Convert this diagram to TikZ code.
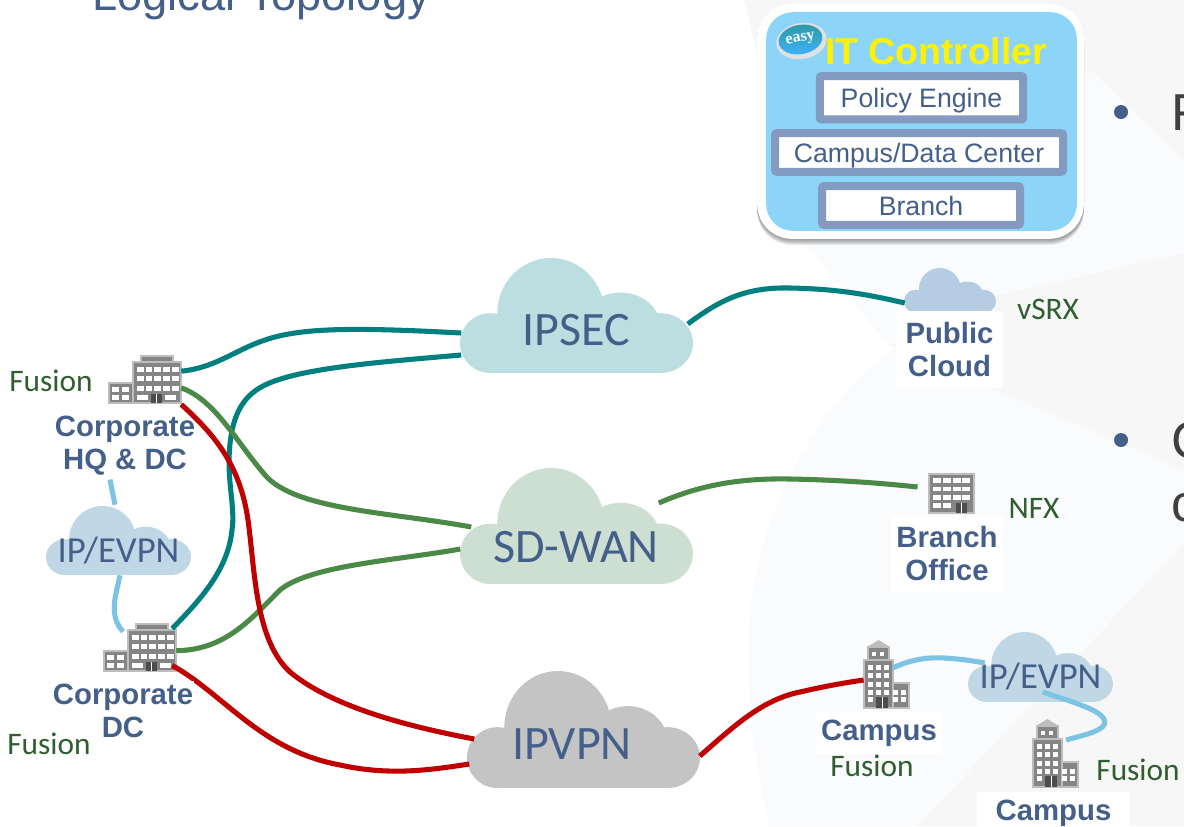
\documentclass[tikz,border=0pt]{standalone}
\usepackage{fontspec}
\setmainfont{Liberation Sans}
\newfontfamily\calfont{Carlito}
\newfontfamily\badgefont{Liberation Serif}
\usepackage{xcolor}
\usetikzlibrary{shapes.geometric}
\definecolor{site}{HTML}{44608A}
\definecolor{fusiontext}{HTML}{2F5F2F}
\definecolor{palebg}{HTML}{F9FBFD}
\definecolor{greybg}{HTML}{F7F7F8}
\definecolor{ctrlblue}{HTML}{8DD5F8}
\definecolor{boxrim}{HTML}{849BC1}
\definecolor{ipseccol}{HTML}{BBDEE0}
\definecolor{sdwancol}{HTML}{CCDFD0}
\definecolor{ipvpncol}{HTML}{C4C4C4}
\definecolor{evpncol}{HTML}{C0D8E6}
\definecolor{pubcol}{HTML}{B5CCE2}
\definecolor{teal}{HTML}{007F7F}
\definecolor{leaf}{HTML}{4A8A46}
\definecolor{crimson}{HTML}{C00000}
\definecolor{sky}{HTML}{7DC3E3}
\definecolor{bldgbody}{HTML}{858585}
\definecolor{bldgrim}{HTML}{BDBDBD}
\definecolor{bldgdoor}{HTML}{4D4D4D}
\tikzset{
  link/.style={line width=3.8pt},
  tealink/.style={link, draw=teal},
  greenlink/.style={link, draw=leaf},
  redlink/.style={link, draw=crimson},
  evpnlink/.style={link, draw=sky},
  sitelabel/.style={
    font=\bfseries\fontsize{22}{24.75}\selectfont,
    text=site,
    fill=white,
    align=center,
    inner xsep=1pt,
    inner ysep=2pt
  },
  fusion/.style={font=\calfont\fontsize{23.5}{25}\selectfont, text=fusiontext, inner sep=0pt},
  wanname/.style={
    font=\calfont\fontsize{36}{38}\selectfont,
    text=site,
    minimum width=174.75pt,
    minimum height=64.5pt,
    inner sep=0pt
  },
  lanname/.style={
    font=\calfont\fontsize{27.5}{29}\selectfont,
    text=site,
    minimum width=108.75pt,
    minimum height=37.5pt,
    inner sep=0pt
  },
  ctrlbox/.style={
    font=\fontsize{20}{22}\selectfont,
    text=site,
    fill=white,
    draw=boxrim,
    line width=6pt,
    rounded corners=1.5pt,
    inner sep=0pt,
    text height=18pt,
    text depth=3.6pt
  },
  corpbox/.style={minimum width=54pt, minimum height=37pt, inner sep=0pt},
  towerbox/.style={minimum width=34pt, minimum height=51pt, inner sep=0pt},
  branchbox/.style={minimum width=34pt, minimum height=29pt, inner sep=0pt},
  bldg/.style={fill=bldgbody, draw=bldgrim, line width=0.8pt},
  pane/.style={fill=white},
  pics/netcloud/.style={code={
    \path[pic actions] (0.13,0.74) ellipse[x radius=0.13, y radius=0.26];
    \path[pic actions] (0.39,0.48) ellipse[x radius=0.23, y radius=0.48];
    \path[pic actions] (0.69,0.60) ellipse[x radius=0.17, y radius=0.30];
    \path[pic actions] (0.86,0.74) ellipse[x radius=0.14, y radius=0.26];
    \path[pic actions] (0.13,0.6) rectangle (0.86,1);
  }},
  pics/corpbldg/.style={code={
    \filldraw[bldg] (0,28) rectangle (24,48);
    \filldraw[bldg] (32,1) rectangle (64,7);
    \filldraw[bldg] (24,7) rectangle (72,48);
    \foreach \wx in {28,36.7,45.4,54,63}
      \foreach \wy in {12,21,31}
        \fill[pane] (\wx,\wy) rectangle +(6.5,5);
    \foreach \wx in {3,12.5}
      \foreach \wy in {32,40}
        \fill[pane] (\wx,\wy) rectangle +(7,5);
    \fill[pane] (28,40) rectangle +(11,5);
    \fill[pane] (56,40) rectangle +(11,5);
    \fill[bldgdoor] (42,39) rectangle (53,48);
    \draw[white, line width=0.5pt] (47.5,39) -- (47.5,48);
  }},
  pics/towerbldg/.style={code={
    \fill[bldgrim] (3,7) -- (14.5,0) -- (26,7) -- cycle;
    \filldraw[bldg] (4,7) rectangle (25,20);
    \filldraw[bldg] (29,43) rectangle (45,68);
    \filldraw[bldg] (0,20) rectangle (29,68);
    \foreach \wx in {8,16}
      \fill[pane] (\wx,12) rectangle +(4,4);
    \foreach \wx in {4,12,20}
      \foreach \wy in {25,33,42,50}
        \fill[pane] (\wx,\wy) rectangle +(5,5);
    \fill[pane] (4,57) rectangle +(5,5);
    \foreach \wx in {28.5,36.5}
      \foreach \wy in {50,57}
        \fill[pane] (\wx,\wy) rectangle +(5,5);
    \fill[bldgdoor] (12,57) rectangle (24,68);
    \draw[white, line width=0.5pt] (18,57) -- (18,68);
  }},
  pics/branchbldg/.style={code={
    \filldraw[bldg] (0,0) rectangle (45,39);
    \foreach \wx in {3.5,13.5,23.5,33}
      \foreach \wy in {4,12.7,21}
        \fill[pane] (\wx,\wy) rectangle +(8,4.5);
    \foreach \wx in {3.5,13.5}
      \fill[pane] (\wx,29) rectangle +(8,4.5);
    \fill[bldgdoor] (27,29) rectangle (38,39);
    \draw[white, line width=0.5pt] (32.5,29) -- (32.5,39);
  }}
}
\begin{document}
\begin{tikzpicture}[x=0.75pt, y=-0.75pt]
  \useasboundingbox (0,0) rectangle (1184,826);
  \clip (0,0) rectangle (1184,826);

  \fill[white] (0,0) rectangle (1184,826);
  \fill[greybg] (744,0) -- (1184,0) -- (1184,160) -- (1090,70) -- (803,241) -- cycle;
  \fill[palebg] (803,241) -- (893,350) .. controls (820,400) and (748,520) .. (748,650) .. controls (748,710) and (755,770) .. (770,826) -- (1184,826) -- (1184,160) -- (1090,70) -- cycle;
  \fill[greybg] (890,345) -- (1000,295) -- (1184,253) -- (1184,470) -- cycle;
  \fill[greybg] (917,826) -- (1184,544) -- (1184,826) -- cycle;

  \node[anchor=base west, inner sep=0pt, font=\fontsize{34}{36}\selectfont, text=site] (title) at (92,10) {Logical Topology};
  \node[circle, fill=site, minimum size=10.5pt, inner sep=0pt] (dota) at (1121,112) {};
  \node[circle, fill=site, minimum size=10.5pt, inner sep=0pt] (dotb) at (1121,440) {};
  \node[anchor=base west, inner sep=0pt, font=\fontsize{39}{42}\selectfont, text=black!75] (linea) at (1171,130) {F};
  \node[anchor=base west, inner sep=0pt, font=\fontsize{39}{42}\selectfont, text=black!75] (lineb) at (1171,458) {C};
  \node[anchor=base west, inner sep=0pt, font=\fontsize{39}{42}\selectfont, text=black!75] (linec) at (1171,521) {c};

  \foreach \sh in {1,...,6}
    \fill[black, opacity=0.07, rounded corners=26pt] (757,{4+\sh}) rectangle (1084,{239+\sh});
  \node[fill=white, minimum width=245pt, minimum height=176pt, rounded corners=26pt] (ctrlout) at (920.5,121.5) {};
  \node[fill=ctrlblue, minimum width=233pt, minimum height=164pt, rounded corners=20pt] (ctrlin) at (921.5,121.5) {};
  \node[font=\bfseries\fontsize{28}{30}\selectfont, text=yellow, inner sep=0pt] (ctrlname) at (936,51) {IT Controller};
  \node[ellipse, rotate=10, fill=black!12, minimum width=38pt, minimum height=27pt, inner sep=0pt] (easyrim) at (801.5,41) {};
  \node[ellipse, rotate=10, top color=teal!70!ctrlblue, bottom color=cyan!60!blue!75, minimum width=33pt, minimum height=22pt, inner sep=0pt,
    font=\badgefont\bfseries\fontsize{12}{13}\selectfont, text=white] (easy) at (800.5,39.5) {easy};
  \node[ctrlbox, minimum width=152.6pt, minimum height=32.6pt] (policy) at (921.5,97.75) {Policy Engine};
  \node[ctrlbox, minimum width=216pt, minimum height=29pt] (campdc) at (919,152.5) {Campus/Data Center};
  \node[ctrlbox, minimum width=148.5pt, minimum height=29pt] (branchbox) at (921,205.5) {Branch};

  \pic[fill=ipseccol, xscale=233, yscale=115] at (460,258) {netcloud};
  \pic[fill=sdwancol, xscale=233, yscale=116] at (460,468) {netcloud};
  \pic[fill=ipvpncol, xscale=233, yscale=117] at (467,671) {netcloud};
  \pic[fill=evpncol, xscale=145, yscale=69] at (46,506) {netcloud};
  \pic[fill=evpncol, xscale=145, yscale=70] at (968,632) {netcloud};
  \pic[fill=pubcol, xscale=92, yscale=45] at (904,268) {netcloud};

  \node[wanname] (ipsec) at (576,330) {IPSEC};
  \node[wanname] (sdwan) at (576,547) {SD-WAN};
  \node[wanname] (ipvpn) at (572,744) {IPVPN};
  \node[minimum width=69pt, minimum height=34pt, inner sep=0pt] (pubcloud) at (950,290) {};

  \pic at (109,355) {corpbldg};
  \pic at (104,623) {corpbldg};
  \pic at (864,640) {towerbldg};
  \pic at (1033,719) {towerbldg};
  \pic at (929,474) {branchbldg};
  \node[corpbox] (hq) at (145,379.5) {};
  \node[corpbox] (dc) at (140,647.5) {};
  \node[towerbox] (campa) at (886.5,674) {};
  \node[towerbox] (campb) at (1055.5,753) {};
  \node[branchbox] (branch) at (951.5,493.5) {};

  \draw[tealink] (hq.13) .. controls (215,368) and (235,350) .. (265,340) .. controls (300,328) and (350,327) .. ([shift={(2,3)}]ipsec.west);
  \draw[tealink] ([shift={(2,25)}]ipsec.west) .. controls (380,362) and (300,368) .. (265,385) .. controls (240,397) and (230,420) .. (229,460) .. controls (229,490) and (235,510) .. (232,530) .. controls (228,570) and (200,600) .. ([shift={(-4,2)}]dc.30);
  \draw[tealink] ([shift={(-5,-6)}]ipsec.east) .. controls (720,300) and (745,287) .. (790,288) .. controls (840,289) and (870,295) .. ([shift={(1,13)}]pubcloud.west);
  \draw[greenlink] (hq.-13) .. controls (215,400) and (235,440) .. (265,475) .. controls (295,510) and (390,512) .. ([shift={(12,-20)}]sdwan.west);
  \draw[greenlink] (dc.-5) .. controls (225,650) and (250,620) .. (280,590) .. controls (310,565) and (400,560) .. ([shift={(1,2)}]sdwan.west);
  \draw[greenlink] ([shift={(-34,-44)}]sdwan.east) .. controls (700,485) and (740,478) .. (790,479) .. controls (840,480) and (880,483) .. ([shift={(-11,-6.5)}]branch.west);
  \draw[redlink] ([shift={(-4,-3)}]dc.-30) .. controls (225,695) and (260,750) .. (340,765) .. controls (390,776) and (430,770) .. ([shift={(14,20)}]ipvpn.west);
  \draw[redlink] ([shift={(11,12)}]ipvpn.east) .. controls (730,730) and (760,700) .. (800,692) .. controls (830,685) and (850,682) .. ([shift={(0,6)}]campa.west);

  \node[sitelabel] (hqlabel) at (125,446) {Corporate\\HQ \& DC};
  \node[sitelabel] (dclabel) at (123,711) {Corporate\\DC};
  \node[sitelabel, minimum width=80pt, minimum height=58pt] (publabel) at (949.5,349.5) {Public\\Cloud};
  \node[sitelabel, minimum width=84pt, minimum height=58pt] (branchlabel) at (947,553.5) {Branch\\Office};
  \node[sitelabel, minimum width=94.5pt, minimum height=32pt] (campalabel) at (879,733) {Campus};
  \node[sitelabel, minimum width=115pt, minimum height=32pt] (campblabel) at (1053.5,813) {Campus};
  \draw[redlink] (hq.south east) .. controls (215,435) and (240,465) .. (248,520) .. controls (255,570) and (255,640) .. (290,672) .. controls (330,705) and (400,725) .. ([shift={(19,-5)}]ipvpn.west);

  \node[lanname] (lana) at (118.5,551) {IP/EVPN};
  \node[lanname] (lanb) at (1040.5,677) {IP/EVPN};
  \draw[evpnlink] ([shift={(-15,1)}]hqlabel.south) -- ([shift={(-3.5,-21)}]lana.north);
  \draw[evpnlink] ([shift={(1.5,-1)}]lana.south) .. controls (116,595) and (108,615) .. ([shift={(-17,9)}]dc.north);
  \draw[evpnlink] ([shift={(29,-6)}]campa.west) .. controls (910,660) and (925,657) .. (945,658) .. controls (960,659) and (975,661) .. ([shift={(17,-14)}]lanb.west);
  \draw[evpnlink] ([shift={(75,15)}]lanb.west) .. controls (1075,703) and (1110,712) .. (1104,725) .. controls (1100,732) and (1080,736) .. ([shift={(10.5,-13)}]campb.center);

  \node[fusion] (fusa) at (51,381) {Fusion};
  \node[fusion] (fusb) at (49,744) {Fusion};
  \node[fusion] (fusc) at (872,766) {Fusion};
  \node[fusion] (fusd) at (1138,770) {Fusion};
  \node[fusion] (vsrx) at (1048,309) {vSRX};
  \node[fusion] (nfx) at (1034,508) {NFX};
\end{tikzpicture}
\end{document}
